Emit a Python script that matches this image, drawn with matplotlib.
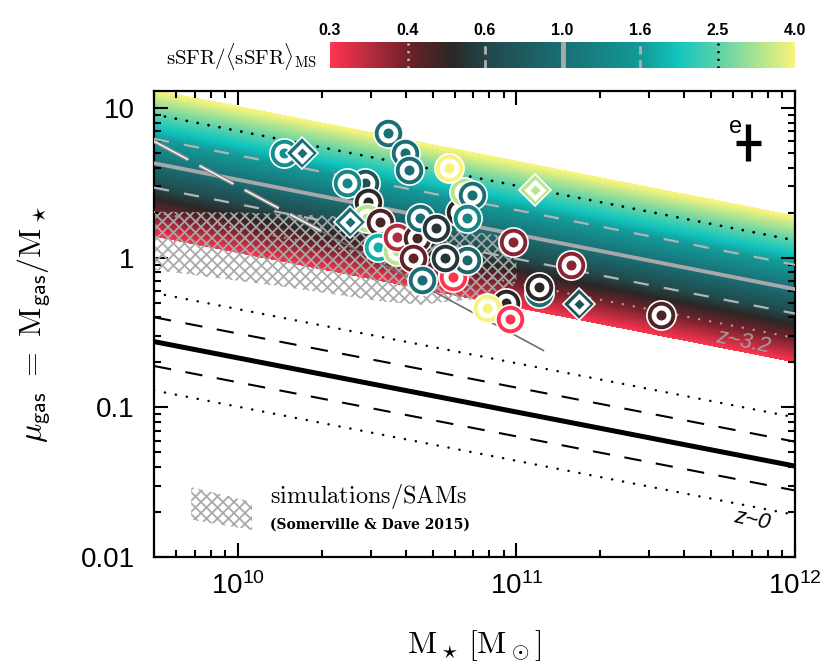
import numpy as np
import matplotlib
matplotlib.use('Agg')
import matplotlib.pyplot as plt
import matplotlib.patheffects as pe
from matplotlib.colors import LinearSegmentedColormap
from matplotlib.patches import Polygon
from matplotlib.collections import LineCollection

plt.rcParams['font.family'] = ['Liberation Sans', 'DejaVu Sans']
plt.rcParams['mathtext.fontset'] = 'cm'
plt.rcParams['lines.scale_dashes'] = False

# sSFR / <sSFR>_MS colour scale (ticks are equally spaced on the bar)
cbar_ticks = [0.3, 0.4, 0.6, 1.0, 1.6, 2.5, 4.0]
cmap_pos = [0.0, 0.17, 0.26, 0.34, 0.5, 0.67, 0.75, 0.84, 1.0]
cmap_hex = ['#ff3550', '#6c2129', '#2b2725', '#21494c', '#1a6f75',
            '#129a98', '#12c6bf', '#5fd3a8', '#f8f47b']

# scaling relations (straight in log-log), values at the two mass limits
mass_ends = [5e9, 1e12]
mu_ms_z32 = [4.28, 0.616]
mu_ms_z0 = [0.275, 0.0405]
dex_per_tick = 0.163

# constant gas mass limit
mgas_limit = 3.0e10
limit_dashed = [5e9, 2.0e10]
limit_solid = [2.0e10, 1.25e11]

# simulations / SAMs region (Somerville & Dave 2015)
sim_mass = [5e9, 1.1e10, 2.14e10, 4.49e10, 1e11, 1e11, 6.8e10, 4.49e10, 3.31e10, 1.45e10, 5e9]
sim_mu = [2.03, 2.0, 1.9, 1.66, 1.36, 0.66, 0.525, 0.486, 0.509, 0.641, 0.83]

# galaxies (drawn back to front)
gal_mass = [3.45e10, 3.97e10, 4.13e10, 1.47e10, 1.70e10, 2.85e10, 2.46e10, 2.92e10,
            2.90e10, 2.52e10, 3.23e10, 3.18e10, 3.72e10, 3.72e10, 4.38e10, 4.24e10,
            4.49e10, 6.25e10, 6.51e10, 6.9e10, 6.62e10, 5.16e10, 5.75e10, 5.9e10,
            5.9e10, 6.67e10, 5.52e10, 4.6e10, 9.2e10, 7.87e10, 9.5e10, 9.69e10,
            1.57e11, 1.21e11, 1.21e11, 1.68e11, 3.31e11, 1.17e11]
gal_mu = [6.8, 5.0, 3.86, 5.0, 5.0, 3.16, 3.16, 2.36,
          1.85, 1.74, 1.74, 1.18, 1.11, 1.38, 1.36, 1.0,
          1.85, 2.03, 2.75, 2.63, 1.85, 1.58, 3.98, 0.80,
          0.74, 0.97, 1.0, 0.71, 0.50, 0.464, 0.39, 1.28,
          0.90, 0.585, 0.64, 0.49, 0.417, 2.84]
gal_ssfr = [1.0, 1.0, 1.0, 1.4, 1.0, 0.7, 1.3, 0.5,
            3.3, 1.0, 0.45, 1.8, 3.3, 0.35, 0.45, 0.42,
            1.0, 0.5, 3.3, 1.0, 1.3, 0.55, 4.0, 0.5,
            0.3, 0.9, 0.55, 1.0, 0.5, 4.0, 0.3, 0.38,
            0.38, 1.0, 0.5, 0.7, 0.45, 3.3]
gal_marker = ['o', 'o', 'o', 'o', 'D', 'o', 'o', 'o',
              'o', 'D', 'o', 'o', 'o', 'o', 'o', 'o',
              'o', 'o', 'o', 'o', 'o', 'o', 'o', 'o',
              'o', 'o', 'o', 'o', 'o', 'o', 'o', 'o',
              'o', 'o', 'o', 'D', 'o', 'D']

# typical uncertainty
err_mass, err_mu = 6.8e11, 5.85
err_dex_mass, err_dex_mu = 0.045, 0.123

cmap = LinearSegmentedColormap.from_list('ssfr', list(zip(cmap_pos, cmap_hex)))
tick_pos = np.linspace(0, 1, len(cbar_ticks))


def ssfr_to_t(v):
    return np.interp(np.log10(v), np.log10(cbar_ticks), tick_pos)


fig = plt.figure(figsize=(8.3, 6.67), dpi=100)
ax = fig.add_axes([154 / 830, 110 / 667, 641 / 830, 466 / 667])
ax.set_xscale('log')
ax.set_yscale('log')
ax.set_xlim(5e9, 1e12)
ax.set_ylim(0.01, 13)

# colour band at z~3.2
lm = np.log10(mass_ends)
tt = np.linspace(0, 1, 257)
offs = (tt * 6 - 3) * dex_per_tick
X = np.tile(10 ** lm, (len(tt), 1))
Y = 10 ** (np.log10(mu_ms_z32)[None, :] + offs[:, None])
C = 0.5 * (tt[1:] + tt[:-1])[:, None]
ax.pcolormesh(X, Y, C, cmap=cmap, vmin=0, vmax=1, shading='flat',
              antialiased=False, edgecolors='face', linewidth=0, zorder=1)

# relation lines
styles_band = {1: dict(color='#9c9c9c', lw=1.8, dashes=(0.1, 7.9), dash_capstyle='round'),
               2: dict(color='#b4b4b4', lw=1.6, dashes=(11, 11)),
               3: dict(color='#a8a8a8', lw=2.8),
               4: dict(color='#b4b4b4', lw=1.6, dashes=(11, 11)),
               5: dict(color='black', lw=2.0, dashes=(0.1, 7.9), dash_capstyle='round')}
styles_z0 = {1: dict(color='black', lw=1.8, dashes=(0.1, 7.9), dash_capstyle='round'),
             2: dict(color='black', lw=1.5, dashes=(12.5, 10.5)),
             3: dict(color='black', lw=3.6),
             4: dict(color='black', lw=1.5, dashes=(12.5, 10.5)),
             5: dict(color='black', lw=1.8, dashes=(0.1, 7.9), dash_capstyle='round')}
for i, st in styles_band.items():
    ax.plot(mass_ends, 10 ** (np.log10(mu_ms_z32) + (i - 3) * dex_per_tick), zorder=3, **st)
for i, st in styles_z0.items():
    ax.plot(mass_ends, 10 ** (np.log10(mu_ms_z0) + (i - 3) * dex_per_tick), zorder=3, **st)


# hatched simulations region (11 px X hatch)
def hatch_lines(spacing=0.11):
    segs = []
    for c in np.arange(-8, 16, spacing):
        segs.append([(c, 0), (c + 8, 8)])
        segs.append([(c, 0), (c - 8, 8)])
    return segs


sim_poly = Polygon(np.column_stack([sim_mass, sim_mu]), closed=True, fill=False,
                   edgecolor='none', transform=ax.transData)
ax.add_patch(sim_poly)
lc = LineCollection(hatch_lines(), colors='#a9a9a9', linewidths=1.3,
                    transform=fig.dpi_scale_trans, zorder=2)
ax.add_collection(lc, autolim=False)
lc.set_clip_path(sim_poly)

# legend for hatch
leg_poly = Polygon([(0.058, 0.150), (0.153, 0.118), (0.153, 0.058), (0.058, 0.080)],
                   closed=True, fill=False, edgecolor='none', transform=ax.transAxes)
ax.add_patch(leg_poly)
lc2 = LineCollection(hatch_lines(), colors='#a9a9a9', linewidths=1.3,
                     transform=fig.dpi_scale_trans, zorder=2)
ax.add_collection(lc2, autolim=False)
lc2.set_clip_path(leg_poly)
ax.text(0.181, 0.129, r'$\mathrm{simulations/SAMs}$', transform=ax.transAxes,
        fontsize=17.5, va='center', ha='left')
ax.text(0.181, 0.069, '(Somerville & Dave 2015)', family='DejaVu Serif',
        fontweight='bold', transform=ax.transAxes, fontsize=10, va='center', ha='left')

# constant gas mass line
m_d = np.array(limit_dashed)
ax.plot(m_d, mgas_limit / m_d, color='white', lw=1.0, dashes=(28, 9), zorder=4,
        path_effects=[pe.Stroke(linewidth=3.0, foreground='#8a8a8a'), pe.Normal()])
m_s = np.array(limit_solid)
ax.plot(m_s, mgas_limit / m_s, color='#6e6e6e', lw=1.2, zorder=4)

# galaxies
for k in range(len(gal_mass)):
    col = cmap(ssfr_to_t(gal_ssfr[k]))
    z = 10 + k
    if gal_marker[k] == 'o':
        sizes = (21.0, 14.2, 7.2)
    else:
        sizes = (16.5, 11.0, 5.4)
    ax.plot(gal_mass[k], gal_mu[k], marker=gal_marker[k], ms=sizes[0], mfc=col,
            mec='white', mew=1.2, zorder=z)
    ax.plot(gal_mass[k], gal_mu[k], marker=gal_marker[k], ms=sizes[1], mfc='white',
            mec='none', zorder=z)
    ax.plot(gal_mass[k], gal_mu[k], marker=gal_marker[k], ms=sizes[2], mfc=col,
            mec='none', zorder=z)

# error cross
xe = [[err_mass - err_mass / 10 ** err_dex_mass], [err_mass * 10 ** err_dex_mass - err_mass]]
ye = [[err_mu - err_mu / 10 ** err_dex_mu], [err_mu * 10 ** err_dex_mu - err_mu]]
ax.errorbar(err_mass, err_mu, xerr=xe, yerr=ye, fmt='none', ecolor='black',
            elinewidth=3.8, capsize=0, zorder=60)
ax.annotate('e', xy=(err_mass, err_mu), xytext=(-9.5, 11.5), textcoords='offset points',
            fontsize=17, ha='center', va='center')

# redshift labels
ax.text(0.964, 0.461, 'z~3.2', transform=ax.transAxes, fontsize=16, color='#a0a0a0',
        ha='right', va='center', rotation=-11, style='italic')
ax.text(0.964, 0.079, 'z~0', transform=ax.transAxes, fontsize=16, color='black',
        ha='right', va='center', rotation=-11, style='italic')

# axes styling
ax.set_xticks([1e10, 1e11, 1e12])
ax.set_xticklabels([r'$\mathregular{10^{10}}$', r'$\mathregular{10^{11}}$', r'$\mathregular{10^{12}}$'])
ax.set_yticks([0.01, 0.1, 1, 10])
ax.set_yticklabels(['0.01', '0.1', '1', '10'])
ax.tick_params(which='both', direction='in', top=True, right=True, width=1.5)
ax.tick_params(which='major', length=10, labelsize=20)
ax.tick_params(which='minor', length=5)
ax.tick_params(axis='y', pad=14)
ax.tick_params(axis='x', pad=11)
for s in ax.spines.values():
    s.set_linewidth(1.6)
ax.set_xlabel(r'$\mathrm{M_\star}\,\mathrm{[M_\odot]}$', fontsize=23, labelpad=20)
ax.set_ylabel(r'$\mu_{\mathsf{gas}}\ =\ \mathrm{M}_{\mathsf{gas}}/\mathrm{M}_\star$',
              fontsize=23, labelpad=20)

# colour bar
cax = fig.add_axes([330 / 830, (667 - 68) / 667, 465 / 830, 26 / 667])
cax.imshow(np.linspace(0, 1, 512)[None, :], aspect='auto', cmap=cmap,
           extent=[0, 1, 0, 1])
cax.set_xlim(0, 1)
cax.set_ylim(0, 1)
cax.xaxis.set_ticks_position('top')
cax.set_xticks(tick_pos)
cax.set_xticklabels(['%.1f' % v for v in cbar_ticks], fontsize=11.5, fontweight='bold')
cax.tick_params(length=0, pad=3)
cax.set_yticks([])
for s in cax.spines.values():
    s.set_visible(False)
cax.axvline(tick_pos[1], color='#c8c8c8', lw=1.8, dashes=(1.5, 4))
cax.axvline(tick_pos[2], color='#b0b0b0', lw=2.0, dashes=(6, 4))
cax.axvline(tick_pos[3], color='#a8a8a8', lw=3.5)
cax.axvline(tick_pos[4], color='#b0b0b0', lw=2.0, dashes=(6, 4))
cax.axvline(tick_pos[5], color='black', lw=1.8, dashes=(1.5, 4))
fig.text(317 / 830, 1 - 56 / 667, r'$\mathrm{sSFR}/\langle\mathrm{sSFR}\rangle_{\mathrm{MS}}$',
         fontsize=15, ha='right', va='center')

fig.savefig('out.png', dpi=100)
